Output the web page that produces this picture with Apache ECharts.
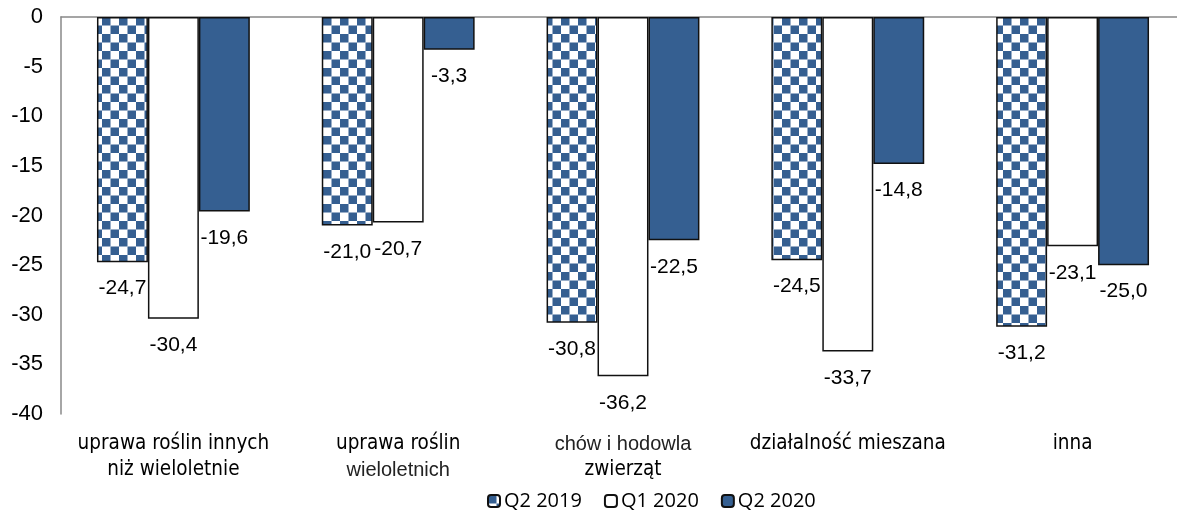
<!DOCTYPE html>
<html>
<head>
<meta charset="utf-8">
<script src="https://cdn.jsdelivr.net/npm/echarts@6/dist/echarts.min.js"></script>
<style>
    html, body { margin: 0; padding: 0; background: #fff; overflow: hidden; }
    #chart { width: 1185px; height: 517px; }
</style>
</head>
<body>
<div id="chart"></div>
<script>
const categories = [
    "uprawa roślin innych\nniż wieloletnie",
    "uprawa roślin\nwieloletnich",
    "chów i hodowla\nzwierząt",
    "działalność mieszana",
    "inna"
];
const q2_2019 = [-24.7, -21.0, -30.8, -24.5, -31.2];
const q1_2020 = [-30.4, -20.7, -36.2, -33.7, -23.1];
const q2_2020 = [-19.6, -3.3, -22.5, -14.8, -25.0];

// these label lines are set in a different (Arial-like) font in the original
const altLines = ["wieloletnich", "chów i hodowla"];

const blue = "#355f91";

// checkerboard fill for Q2 2019
const tile = document.createElement("canvas");
tile.width = 17;
tile.height = 17;
const ctx = tile.getContext("2d");
ctx.fillStyle = "#fff";
ctx.fillRect(0, 0, 17, 17);
ctx.fillStyle = blue;
ctx.fillRect(0, 0, 8.5, 8.5);
ctx.fillRect(8.5, 8.5, 8.5, 8.5);

// the plot runs a bit past the right edge of the window, so the div is wider than 1177
const chart = echarts.init(document.getElementById("chart"));

const labelFmt = p => p.value.toFixed(1).replace(".", ",");

const barLabel = {
    show: true,
    position: "bottom",
    distance: 16,
    formatter: labelFmt,
    fontFamily: "Liberation Sans",
    fontSize: 21,
    color: "#000"
};

chart.setOption({
    animation: false,
    grid: { left: 61, right: 0, top: 17, bottom: 103 },
    legend: {
        bottom: 1,
        left: 482,
        itemWidth: 12,
        itemHeight: 12,
        itemGap: 22,
        textStyle: { fontFamily: "Open Sans", fontSize: 20, color: "#000", padding: [0, 0, 0, -1] },
        data: ["Q2 2019", "Q1 2020", "Q2 2020"]
    },
    xAxis: [
        {
            type: "category",
            data: categories,
            position: "top",
            axisLine: { onZero: false, lineStyle: { color: "#888", width: 1.5 } },
            axisTick: { show: false },
            axisLabel: { show: false }
        },
        {
            type: "category",
            data: categories,
            position: "bottom",
            axisLine: { show: false },
            axisTick: { show: false },
            axisLabel: {
                margin: 17,
                formatter: v => v.split("\n")
                    .map(line => (altLines.includes(line) ? "{a|" : "{t|") + line + "}")
                    .join("\n"),
                rich: {
                    t: { fontFamily: "DejaVu Sans Condensed", fontSize: 20.5, lineHeight: 26, color: "#000" },
                    a: { fontFamily: "Liberation Sans", fontSize: 20, lineHeight: 26, color: "#222" }
                }
            }
        }
    ],
    yAxis: {
        type: "value",
        min: -40,
        max: 0,
        interval: 5,
        axisLine: { show: true, lineStyle: { color: "#888", width: 1.5 } },
        axisTick: { show: false },
        splitLine: { show: false },
        axisLabel: {
            margin: 18,
            fontFamily: "Liberation Sans",
            fontSize: 22,
            color: "#000"
        }
    },
    series: [
        {
            name: "Q2 2019",
            type: "bar",
            data: q2_2019,
            barGap: "0%",
            barCategoryGap: "32%",
            itemStyle: { color: { image: tile, repeat: "repeat" }, borderColor: "#111", borderWidth: 1.5 },
            label: barLabel
        },
        {
            name: "Q1 2020",
            type: "bar",
            data: q1_2020,
            itemStyle: { color: "#fff", borderColor: "#111", borderWidth: 1.5 },
            label: barLabel
        },
        {
            name: "Q2 2020",
            type: "bar",
            data: q2_2020,
            itemStyle: { color: blue, borderColor: "#111", borderWidth: 1.5 },
            label: barLabel
        }
    ]
});
</script>
</body>
</html>
